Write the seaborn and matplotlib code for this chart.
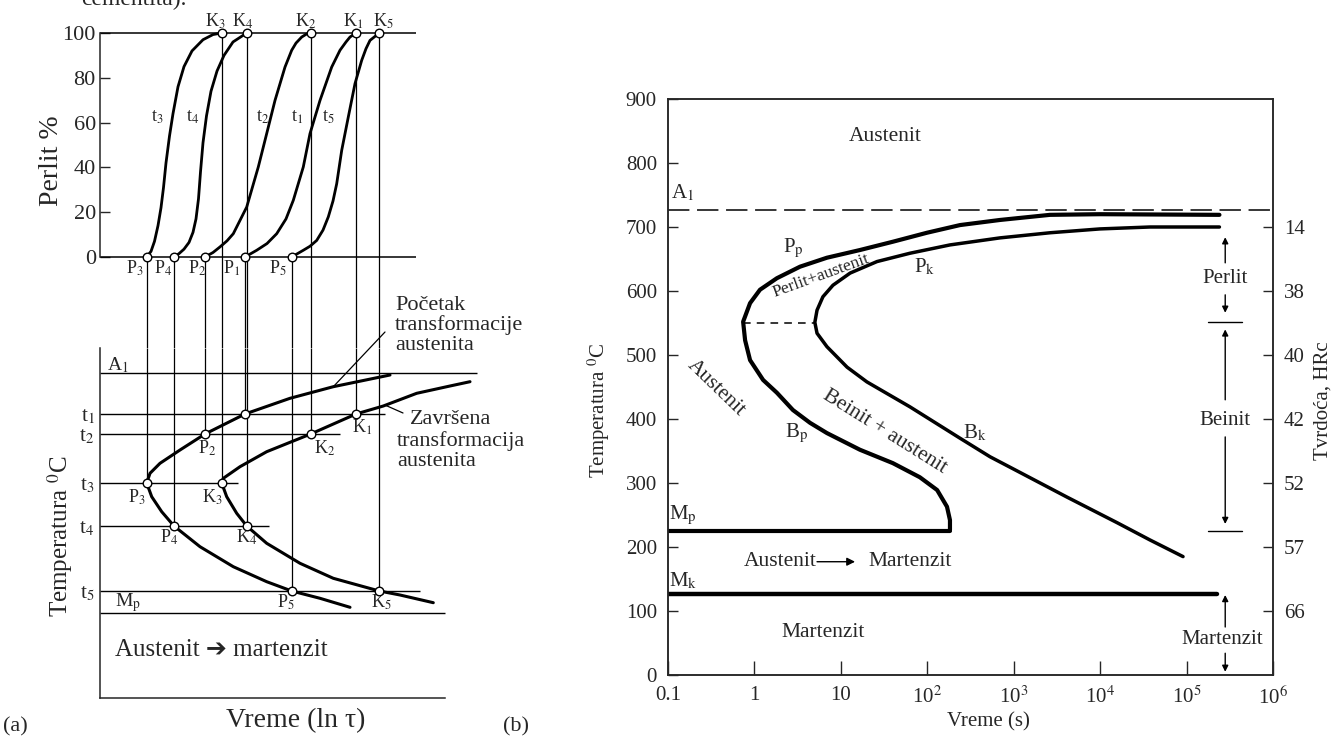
import matplotlib
matplotlib.use('Agg')
import matplotlib.pyplot as plt
import seaborn as sns

# ======================= PANEL (a) DATA (schematic units) =======================
# isothermal levels t1..t5 (schematic temperature units) and start/finish times (ln tau units)
level_labels = ['t$_1$', 't$_2$', 't$_3$', 't$_4$', 't$_5$']
level_temp = [284, 264, 215, 172, 107]
p_time = [14.5, 10.5, 4.67, 7.4, 19.17]     # P1..P5  start of transformation
k_time = [25.6, 21.07, 12.17, 14.67, 27.93]  # K1..K5  end of transformation
level_end = [28.5, 24.0, 13.8, 16.9, 32.0]   # right end of the isotherm lines
a1_temp_a = 325
mp_temp_a = 85

# Perlit % kinetic curves for t1..t5
t1_x = [14.5, 15.67, 16.7, 17.67, 18.6, 19.33, 20.33, 21.0, 22.0, 23.17, 24.0, 24.6, 25.0, 25.6]
t1_y = [0, 3.0, 6.0, 10.4, 17.0, 25.3, 40.2, 55.1, 69.9, 84.8, 92.3, 96.0, 98.2, 100]
t2_x = [10.5, 11.3, 12.0, 12.7, 13.33, 14.67, 15.83, 16.67, 17.5, 18.5, 19.17, 19.6, 20.17, 20.6, 21.07]
t2_y = [0, 2.0, 4.5, 7.2, 10.4, 22.3, 40.2, 55.1, 69.9, 84.8, 92.3, 95.5, 98.2, 99.4, 100]
t3_x = [4.67, 5.1, 5.45, 5.8, 6.1, 6.35, 6.6, 6.95, 7.3, 7.8, 8.4, 9.2, 10.3, 11.3, 12.17]
t3_y = [0, 2.5, 7, 14, 22, 31, 42, 54, 64, 76, 85, 92, 97, 99.3, 100]
t4_x = [7.40, 7.9, 8.4, 8.9, 9.3, 9.6, 9.85, 10.05, 10.3, 10.65, 11.1, 11.7, 12.4, 13.3, 14.67]
t4_y = [0, 1.5, 3.5, 6.5, 11, 17, 26, 38, 51, 63, 74, 83, 90, 96, 100]
t5_x = [19.17, 20.33, 21.0, 21.67, 22.3, 22.83, 23.3, 23.67, 24.17, 24.83, 25.5, 26.17, 26.6, 27.0, 27.93]
t5_y = [0, 3.0, 4.8, 7.4, 12.0, 17.9, 25.0, 32.7, 47.6, 62.5, 77.4, 87.8, 93.0, 96.7, 100]

# start / finish C-curves (schematic)
start_x = [29.0, 23.33, 19.0, 14.5, 10.5, 8.0, 6.0, 5.0, 4.67, 5.17, 6.17, 7.4, 10.0, 13.33, 16.67, 19.17, 22.0, 25.0]
start_T = [323, 311.3, 299.7, 284, 264, 248, 234.7, 224.7, 215, 201.3, 186.3, 172, 151.3, 131.3, 116.3, 107, 99.7, 90.7]
finish_x = [37.0, 35.0, 31.67, 28.33, 25.6, 21.07, 16.67, 14.0, 12.33, 12.17, 12.67, 13.67, 14.67, 16.67, 20.0, 23.33, 27.93, 30.0, 33.33]
finish_T = [316.3, 312, 304.7, 292, 284, 264, 246.3, 231.3, 219.7, 215, 201.3, 184.7, 172, 154.7, 134.7, 119.7, 107, 103, 95.3]

# ======================= PANEL (b) DATA (TTT diagram) =======================
temp_ticks = [0, 100, 200, 300, 400, 500, 600, 700, 800, 900]
time_ticks = [0.1, 1, 10, 1e2, 1e3, 1e4, 1e5, 1e6]
time_labels = ['0.1', '1', '10', '10$^2$', '10$^3$', '10$^4$', '10$^5$', '10$^6$']
hrc_temps = [700, 600, 500, 400, 300, 200, 100]
hrc_labels = ['14', '38', '40', '42', '52', '57', '66']
A1 = 727
Mp = 225
Mk = 127
nose_T = 550

# start curve Pp -> Bp (time s, temperature C)
ps_t = [2.4e5, 9960, 2630, 694, 239, 99, 40, 16.6, 6.9, 3.37, 1.82, 1.16, 0.89, 0.74, 0.78, 0.89,
        1.26, 1.82, 2.79, 4.4, 6.9, 16.6, 40, 82, 130, 169, 183, 183]
ps_T = [719, 720, 719, 711, 703, 691, 677, 664, 652, 638, 620, 602, 581, 552, 523, 492,
        461, 441, 414, 394, 378, 352, 331, 309, 289, 263, 242, 227]
# finish curve Pk -> Bk
pf_t = [2.4e5, 3.77e4, 9960, 2630, 694, 183, 63, 26.2, 12.8, 8.1, 6.2, 5.3, 5.0, 5.3, 6.9, 11.8,
        20, 63, 239, 532, 1090, 4130, 15700, 37700, 9.1e4]
pf_T = [700, 700, 697, 691, 683, 672, 659, 646, 628, 609, 591, 570, 551, 534, 513, 481,
        458, 419, 370, 341, 319, 278, 238, 211, 185]
mp_end_t = 183
mk_end_t = 2.25e5
nose_t = [0.74, 5.0]

# right-hand range arrows: (from T, to T)
zone_t = 2.8e5
zone_arrows = [(644, 684), (594, 566), (430, 540), (372, 236), (75, 125), (34, 5)]
zone_ticks = [551, 225]

# ======================= STYLE =======================
sns.set_theme(style='ticks')
plt.rcParams['font.family'] = ['Liberation Serif', 'DejaVu Sans']
plt.rcParams['mathtext.fontset'] = 'stix'
plt.rcParams['axes.linewidth'] = 1.1
plt.rcParams['figure.facecolor'] = 'white'
plt.rcParams['axes.facecolor'] = 'none'

W, H = 1344, 743
fig = plt.figure(figsize=(W / 100, H / 100), dpi=100)


def box(x0, y0, x1, y1):
    return [x0 / W, 1 - y1 / H, (x1 - x0) / W, (y1 - y0) / H]


K = 'black'

# ----------------------- (a) top : Perlit % -----------------------
axT = fig.add_axes(box(100, 5, 500, 348))
axT.set_xlim(0, 40)
axT.set_ylim(-40.63, 112.5)
axT.hlines([0, 100], 0, 31.6, color=K, lw=1.1)
for cx, cy in [(t1_x, t1_y), (t2_x, t2_y), (t3_x, t3_y), (t4_x, t4_y), (t5_x, t5_y)]:
    sns.lineplot(x=cx, y=cy, sort=False, estimator=None, color=K, lw=2.0, ax=axT)
axT.vlines(p_time, -40.63, 0, color=K, lw=0.9)
axT.vlines(k_time, -40.63, 100, color=K, lw=0.9)
sns.scatterplot(x=p_time, y=[0] * 5, marker='o', s=38, facecolor='white', edgecolor=K,
                linewidth=1.0, zorder=5, ax=axT)
sns.scatterplot(x=k_time, y=[100] * 5, marker='o', s=38, facecolor='white', edgecolor=K,
                linewidth=1.0, zorder=5, ax=axT)
for sp in ['top', 'right', 'bottom']:
    axT.spines[sp].set_visible(False)
axT.spines['left'].set_bounds(0, 100)
axT.set_xticks([])
axT.set_yticks([0, 20, 40, 60, 80, 100])
axT.tick_params(axis='y', left=True, direction='in', length=7, width=1, labelsize=16, pad=3)
axT.set_ylabel('Perlit %', fontsize=20)
axT.yaxis.set_label_coords(-0.09, 0.545)
# point labels
p_lab_x = [13.2, 9.7, 3.5, 6.3, 17.8]
k_lab_x = [25.3, 20.6, 11.5, 14.3, 28.3]
for i in range(5):
    axT.text(p_lab_x[i], -4.9, 'P$_%d$' % (i + 1), ha='center', va='center', fontsize=13)
    axT.text(k_lab_x[i], 105.4, 'K$_%d$' % (i + 1), ha='center', va='center', fontsize=13)
curve_lab_x = [19.7, 16.3, 5.7, 9.3, 22.8]
for i in range(5):
    axT.text(curve_lab_x[i], 62.5, 't$_%d$' % (i + 1), ha='center', va='center', fontsize=13)

# ----------------------- (a) bottom : temperature -----------------------
axB = fig.add_axes(box(100, 348, 500, 698))
axB.set_xlim(0, 40)
axB.set_ylim(0, 350)
axB.hlines(level_temp, 0, level_end, color=K, lw=1.0)
axB.hlines([a1_temp_a], 0, 37.7, color=K, lw=1.0)
axB.hlines([mp_temp_a], 0, 34.5, color=K, lw=1.0)
axB.vlines(p_time, level_temp, 350, color=K, lw=0.9)
axB.vlines(k_time, level_temp, 350, color=K, lw=0.9)
sns.lineplot(x=start_x, y=start_T, sort=False, estimator=None, color=K, lw=2.2, ax=axB)
sns.lineplot(x=finish_x, y=finish_T, sort=False, estimator=None, color=K, lw=2.2, ax=axB)
for lst in (p_time, k_time):
    sns.scatterplot(x=lst, y=level_temp, marker='o', s=38, facecolor='white', edgecolor=K,
                    linewidth=1.0, zorder=5, ax=axB)
for sp in ['top', 'right']:
    axB.spines[sp].set_visible(False)
axB.spines['bottom'].set_bounds(0, 34.5)
axB.set_xticks([])
axB.set_yticks(level_temp)
axB.set_yticklabels(level_labels)
axB.tick_params(axis='y', left=True, length=0, labelsize=15, pad=4)
axB.set_ylabel('Temperatura $^0$C', fontsize=18)
axB.yaxis.set_label_coords(-0.0625, 0.463)
axB.set_xlabel('Vreme (ln τ)', fontsize=20)
axB.xaxis.set_label_coords(0.49, -0.03)
axB.text(0.7, 333, 'A$_1$', ha='left', va='center', fontsize=14)
axB.text(1.5, 95, 'M$_\\mathrm{p}$', ha='left', va='center', fontsize=14)
bp_lab = [(26.2, 271), (22.5, 250), (3.7, 201), (6.9, 161), (18.6, 96)]
bk_lab = [(26.2, 271), (22.5, 250), (11.2, 201), (14.7, 161), (28.1, 96)]
axB.text(10.7, 250, 'P$_2$', ha='center', va='center', fontsize=13)
for i in [2, 3, 4]:
    axB.text(bp_lab[i][0], bp_lab[i][1], 'P$_%d$' % (i + 1), ha='center', va='center', fontsize=13)
for i in range(5):
    axB.text(bk_lab[i][0], bk_lab[i][1], 'K$_%d$' % (i + 1), ha='center', va='center', fontsize=13)
# leaders and annotations
axB.plot([23.33, 28.5], [311.3, 366], color=K, lw=0.9, clip_on=False)
axB.plot([28.6, 30.3], [292.5, 285], color=K, lw=0.9, clip_on=False)
for txt, x, y in [('Početak', 29.5, 393), ('transformacije', 29.5, 373), ('austenita', 29.5, 353),
                  ('Završena', 31.0, 278), ('transformacija', 29.7, 257), ('austenita', 29.7, 236)]:
    axB.text(x, y, txt, ha='left', va='center', fontsize=16)
axB.text(1.5, 48, 'Austenit ➔ martenzit', ha='left', va='center', fontsize=18)

# ----------------------- (b) TTT diagram -----------------------
axR = fig.add_axes(box(668, 99, 1273, 675))
axR.set_xscale('log')
axR.set_xlim(0.1, 1e6)
axR.set_ylim(0, 900)
axR.axhline(A1, color=K, lw=1.1, dashes=(14, 5))
sns.lineplot(x=nose_t, y=[nose_T, nose_T], color=K, lw=1.1, ax=axR).lines[-1].set_dashes((5, 4))
sns.lineplot(x=ps_t, y=ps_T, sort=False, estimator=None, color=K, lw=3.0, ax=axR)
sns.lineplot(x=pf_t, y=pf_T, sort=False, estimator=None, color=K, lw=2.5, ax=axR)
sns.lineplot(x=[0.1, mp_end_t], y=[Mp, Mp], color=K, lw=3.0, ax=axR)
sns.lineplot(x=[0.1, mk_end_t], y=[Mk, Mk], color=K, lw=3.2, ax=axR)
axR.set_xticks(time_ticks)
axR.set_xticklabels(time_labels)
axR.xaxis.set_minor_locator(matplotlib.ticker.NullLocator())
axR.set_yticks(temp_ticks)
axR.tick_params(axis='x', bottom=True, direction='in', length=10, width=1, labelsize=15, pad=8)
axR.tick_params(axis='y', left=True, direction='in', length=7, width=1, labelsize=15, pad=8)
axR.set_ylabel('Temperatura $^0$C', fontsize=15)
axR.yaxis.set_label_coords(-0.093, 0.46)
axR.set_xlabel('Vreme (s)', fontsize=15)
axR.xaxis.set_label_coords(0.529, -0.065)
ax2 = axR.twinx()
ax2.set_ylim(0, 900)
ax2.set_yticks(hrc_temps)
ax2.set_yticklabels(hrc_labels)
ax2.tick_params(axis='y', right=True, direction='in', length=7, width=1, labelsize=15, pad=8)
ax2.set_ylabel('Tvrdoća, HRc', fontsize=15)
ax2.yaxis.set_label_coords(1.067, 0.477)

# region arrows on the right
for a, b in zone_arrows:
    axR.annotate('', xy=(zone_t, b), xytext=(zone_t, a),
                 arrowprops=dict(arrowstyle='-|>', color=K, lw=1.0, mutation_scale=9,
                                 shrinkA=0, shrinkB=0))
for zt in zone_ticks:
    axR.plot([1.77e5, 4.4e5], [zt, zt], color=K, lw=1.0)
axR.text(zone_t, 620, 'Perlit', ha='center', va='center', fontsize=15)
axR.text(zone_t, 397, 'Beinit', ha='center', va='center', fontsize=15)
axR.text(2.57e5, 55, 'Martenzit', ha='center', va='center', fontsize=15)

# region texts
axR.text(32.4, 841, 'Austenit', ha='center', va='center', fontsize=15.5)
axR.text(0.149, 753, 'A$_1$', ha='center', va='center', fontsize=15)
axR.text(2.79, 666, 'P$_\\mathrm{p}$', ha='center', va='center', fontsize=15)
axR.text(94, 637, 'P$_\\mathrm{k}$', ha='center', va='center', fontsize=15)
axR.text(5.9, 624, 'Perlit+austenit', ha='center', va='center', fontsize=12.5, rotation=20)
axR.text(0.359, 448, 'Austenit', ha='center', va='center', fontsize=15.5, rotation=-44)
axR.text(32.4, 380, 'Beinit + austenit', ha='center', va='center', fontsize=15.5, rotation=-32)
axR.text(3.11, 377, 'B$_\\mathrm{p}$', ha='center', va='center', fontsize=15)
axR.text(356, 378, 'B$_\\mathrm{k}$', ha='center', va='center', fontsize=15)
axR.text(0.149, 250, 'M$_\\mathrm{p}$', ha='center', va='center', fontsize=15)
axR.text(0.149, 147, 'M$_\\mathrm{k}$', ha='center', va='center', fontsize=15)
axR.text(1.98, 177, 'Austenit', ha='center', va='center', fontsize=15.5)
axR.text(63, 177, 'Martenzit', ha='center', va='center', fontsize=15.5)
axR.annotate('', xy=(14.6, 177), xytext=(5.3, 177),
             arrowprops=dict(arrowstyle='-|>', color=K, lw=1.0, mutation_scale=12, shrinkA=0, shrinkB=0))
axR.text(6.2, 67, 'Martenzit', ha='center', va='center', fontsize=15.5)

# panel letters and clipped caption fragment
fig.text(3 / W, 1 - 727 / H, '(a)', ha='left', va='center', fontsize=16)
fig.text(503 / W, 1 - 727 / H, '(b)', ha='left', va='center', fontsize=16)
fig.text(187 / W, 1 - 5 / H, 'cementita).', ha='right', va='baseline', fontsize=17)

fig.savefig('out.png', dpi=100, facecolor='white')
